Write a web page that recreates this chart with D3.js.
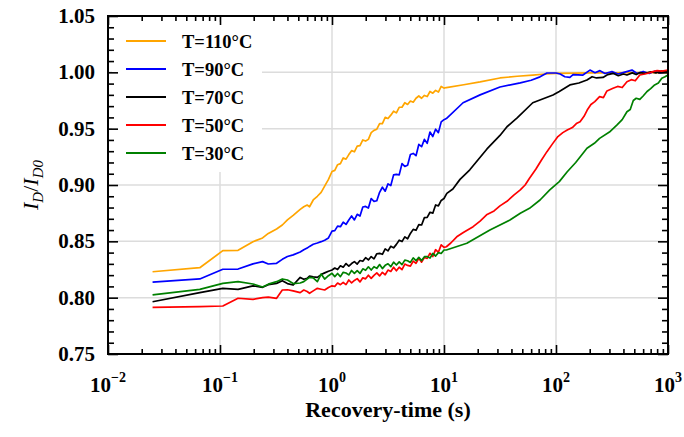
<!DOCTYPE html>
<html><head><meta charset="utf-8">
<script src="https://cdn.jsdelivr.net/npm/d3@7"></script>
<style>body{margin:0;background:#fff}svg{display:block}</style>
</head><body>
<script>
// ---------- DATA ----------
const seriesNames = ["T=110°C","T=90°C","T=70°C","T=50°C","T=30°C"];
const seriesColors = ["#FFA500","#0000FF","#000000","#FF0000","#008000"];
const xTickExps = [-2,-1,0,1,2,3];
const yTicks = [0.75,0.80,0.85,0.90,0.95,1.00,1.05];

// shared early sampling times (s)
const tEarly = [0.025,0.066,0.106,0.145,0.197,0.24,0.27,0.32,0.36,0.40,0.45,0.52,0.56,0.60,0.63,0.68,0.74,0.80,0.86,0.93];
// shared dense sampling times 1..10 s
const tMid = [1.000,1.059,1.122,1.189,1.259,1.334,1.413,1.496,1.585,1.679,1.778,1.884,1.995,2.113,2.239,2.371,2.512,2.661,2.818,2.985,3.162,3.350,3.548,3.758,3.981,4.217,4.467,4.732,5.012,5.309,5.623,5.957,6.310,6.683,7.079,7.499,7.943,8.414,8.913,9.441,10.0];

const v110Early = [.823,.8266,.8417,.842,.8497,.853,.857,.861,.8645,.869,.873,.8784,.8807,.8822,.8807,.8867,.890,.8935,.899,.905];
const v90Early  = [.8138,.8166,.8252,.8254,.830,.832,.8299,.8305,.834,.8365,.838,.8405,.8425,.844,.8455,.8474,.8485,.8497,.851,.853];
const v70Early  = [.7964,.8044,.8083,.8074,.8105,.8092,.8115,.8127,.815,.8125,.8112,.818,.8163,.8172,.8192,.8185,.818,.8205,.822,.8235];
const v50Early  = [.7914,.792,.7926,.7995,.7985,.800,.8005,.7994,.8068,.807,.806,.8045,.8068,.8055,.8039,.806,.8083,.8075,.8068,.809];
const v30Early  = [.8024,.8074,.8127,.8142,.8121,.8095,.812,.8142,.8166,.8157,.8125,.813,.8142,.8165,.818,.8175,.8142,.821,.8165,.8195];

const v110Mid = [.912,.913,.918,.919,.924,.923,.927,.9305,.9295,.9345,.935,.940,.939,.9405,.9465,.9485,.9495,.9545,.9545,.960,.959,.962,.9655,.964,.969,.969,.973,.9715,.9745,.9735,.977,.979,.977,.9795,.9785,.983,.9815,.984,.9825,.9875,.986];
const v90Mid  = [.859,.8595,.8635,.863,.867,.865,.869,.8725,.869,.874,.8725,.8805,.881,.8795,.888,.8855,.886,.8935,.898,.8945,.901,.8995,.909,.9095,.909,.919,.9165,.9175,.927,.928,.926,.936,.934,.9405,.937,.947,.943,.9495,.9465,.956,.958];
const v70Mid  = [.8246,.8263,.825,.8283,.827,.8303,.828,.8303,.832,.8298,.833,.8323,.8355,.8335,.8365,.8345,.839,.8393,.8385,.8433,.8415,.8456,.8442,.8473,.851,.8498,.854,.8523,.857,.8606,.8598,.8649,.8645,.871,.8713,.8758,.875,.8823,.8815,.8863,.888];
const v50Mid  = [.8105,.810,.813,.8115,.8135,.8116,.8157,.8132,.8153,.8169,.814,.8176,.8167,.8199,.8171,.8198,.822,.8193,.8225,.8203,.8245,.8233,.827,.8238,.827,.8249,.8298,.8286,.828,.8325,.8305,.835,.8315,.8356,.8348,.8394,.8365,.8426,.8403,.8469,.8447];
const v30Mid  = [.8216,.8187,.8215,.8187,.8225,.8219,.8202,.8241,.8215,.824,.8215,.8256,.8243,.8274,.8245,.8275,.826,.8294,.8258,.8287,.8301,.8275,.8315,.829,.8317,.8293,.8333,.8328,.8313,.8353,.8328,.8358,.8329,.8364,.8365,.8351,.8393,.8369,.840,.8392,.8423];

const late110 = [[10.5,.9865],[15,.989],[21,.9915],[31.6,.995],[45,.9965],[62,.9976],[80,.9985],[100,.999],[150,.9993],[200,.9995],[300,.9996],[500,.9997],[1000,.9998]];
const late90  = [[10.5,.959],[14.8,.973],[21,.980],[31.6,.987],[48,.9906],[60,.993],[72,.996],[83,.9994],[100,.9994],[109,.9985],[120,.9961],[133,.9955],[142,.998],[174,.9976],[201,1.002],[223,.9997],[247,1.0015],[274,.999],[316,1.0006],[358,.9985],[397,.9997],[477,1.002],[529,.999],[600,1.0008],[680,.999],[760,1.001],[850,.9995],[1000,1.0005]];
const late70  = [[10.6,.8926],[12,.8965],[13.9,.905],[17,.9135],[24.2,.932],[31.6,.944],[36.5,.9517],[45,.9595],[62,.973],[94,.9799],[107,.983],[133,.9888],[160,.9905],[189,.9932],[210,.9961],[230,.995],[263,.9955],[290,.998],[323,.9991],[360,.997],[400,.9985],[430,.9976],[480,.9995],[520,.998],[560,.9997],[620,.999],[700,1.0005],[780,.9995],[870,1.001],[1000,1.0006]];
const late50  = [[10.5,.8452],[11.5,.8485],[13,.854],[15,.858],[18.2,.863],[21,.868],[24,.8735],[28,.877],[31.6,.8815],[36.5,.8855],[42,.891],[48,.8956],[53,.900],[58,.906],[66,.914],[74,.922],[83,.9296],[93,.9365],[104,.943],[115,.9465],[126,.9488],[140,.951],[152,.9545],[164,.9562],[178,.961],[190,.9665],[205,.9715],[222,.974],[245,.9784],[265,.9775],[285,.9835],[323,.9858],[355,.9875],[390,.9865],[430,.9917],[470,.9935],[510,.9925],[560,.9976],[620,.9985],[680,.9995],[735,1.0006],[800,1.0015],[880,1.001],[1000,1.002]];
const late30  = [[10.5,.8423],[16,.8483],[25.7,.86],[38.8,.8689],[48,.8749],[58,.8793],[72,.8867],[88,.8956],[107,.903],[126,.9118],[150,.920],[189,.9326],[220,.937],[245,.9414],[300,.947],[351,.9533],[390,.958],[430,.965],[460,.967],[490,.975],[520,.977],[560,.976],[600,.979],[650,.983],[700,.9855],[760,.9888],[820,.9905],[880,.9947],[940,.996],[1000,.9976]];

const earlyVals = [v110Early,v90Early,v70Early,v50Early,v30Early];
const midVals = [v110Mid,v90Mid,v70Mid,v50Mid,v30Mid];
const lateVals = [late110,late90,late70,late50,late30];

// ---------- CHART ----------
const W = 684, H = 437;
const L = 108, R = 668, T = 16, B = 354;
const svg = d3.select("body").append("svg").attr("width", W).attr("height", H)
  .style("font-family", "'Liberation Serif','Times New Roman',serif");

const x = d3.scaleLog().domain([1e-2, 1e3]).range([L, R]);
const y = d3.scaleLinear().domain([0.75, 1.05]).range([B, T]);

// grid
const grid = svg.append("g").attr("stroke", "#dcdcdc").attr("stroke-width", 1.5);
xTickExps.slice(1, -1).forEach(e => {
  grid.append("line").attr("x1", x(Math.pow(10, e))).attr("x2", x(Math.pow(10, e))).attr("y1", T).attr("y2", B);
});
yTicks.slice(1, -1).forEach(v => {
  grid.append("line").attr("x1", L).attr("x2", R).attr("y1", y(v)).attr("y2", y(v));
});

// legend background (covers grid)
svg.append("rect").attr("x", 112).attr("y", 22).attr("width", 150).attr("height", 150).attr("fill", "#fff");

// series
const line = d3.line().x(d => x(d[0])).y(d => y(d[1]));
const plot = svg.append("g");
seriesNames.forEach((name, i) => {
  const pts = tEarly.map((t, j) => [t, earlyVals[i][j]])
    .concat(tMid.map((t, j) => [t, midVals[i][j]]))
    .concat(lateVals[i]);
  plot.append("path").datum(pts).attr("d", line)
    .attr("fill", "none").attr("stroke", seriesColors[i]).attr("stroke-width", 1.7)
    .attr("stroke-linejoin", "round");
});

// axes (inward ticks on all sides)
const minorX = [];
for (let e = -2; e < 3; e++) for (let k = 2; k <= 9; k++) minorX.push(k * Math.pow(10, e));
const majorX = xTickExps.map(e => Math.pow(10, e));
const minorY = d3.range(75, 106).map(v => v / 100).filter(v => Math.round(v * 100) % 5 !== 0);

function axisTicks(g, axis) { g.call(axis); g.select(".domain").remove(); g.selectAll("text").remove(); g.selectAll("line").attr("stroke", "#000").attr("stroke-width", 1.6); }
svg.append("g").attr("transform", `translate(0,${B})`).call(g => axisTicks(g, d3.axisTop(x).tickValues(majorX).tickSize(9)));
svg.append("g").attr("transform", `translate(0,${B})`).call(g => axisTicks(g, d3.axisTop(x).tickValues(minorX).tickSize(5)));
svg.append("g").attr("transform", `translate(0,${T})`).call(g => axisTicks(g, d3.axisBottom(x).tickValues(majorX).tickSize(9)));
svg.append("g").attr("transform", `translate(0,${T})`).call(g => axisTicks(g, d3.axisBottom(x).tickValues(minorX).tickSize(5)));
svg.append("g").attr("transform", `translate(${L},0)`).call(g => axisTicks(g, d3.axisRight(y).tickValues(yTicks).tickSize(10)));
svg.append("g").attr("transform", `translate(${L},0)`).call(g => axisTicks(g, d3.axisRight(y).tickValues(minorY).tickSize(6)));
svg.append("g").attr("transform", `translate(${R},0)`).call(g => axisTicks(g, d3.axisLeft(y).tickValues(yTicks).tickSize(10)));
svg.append("g").attr("transform", `translate(${R},0)`).call(g => axisTicks(g, d3.axisLeft(y).tickValues(minorY).tickSize(6)));

svg.append("rect").attr("x", L).attr("y", T).attr("width", R - L).attr("height", B - T)
  .attr("fill", "none").attr("stroke", "#000").attr("stroke-width", 2);

// tick labels
svg.append("g").selectAll("text").data(yTicks).join("text")
  .attr("x", L - 13).attr("y", d => y(d) + 7).attr("text-anchor", "end")
  .attr("font-size", 21).attr("font-weight", "bold").text(d => d.toFixed(2));

const xl = svg.append("g").selectAll("text").data(xTickExps).join("text")
  .attr("x", d => x(Math.pow(10, d))).attr("y", 392).attr("text-anchor", "middle")
  .attr("font-size", 21).attr("font-weight", "bold");
xl.append("tspan").text("10");
xl.append("tspan").attr("dy", -10).attr("font-size", 14).text(d => d < 0 ? "\u2212" + (-d) : String(d));

// axis titles
svg.append("text").attr("x", (L + R) / 2).attr("y", 417).attr("text-anchor", "middle")
  .attr("font-size", 22).attr("font-weight", "bold").text("Recovery-time (s)");

const yl = svg.append("text").attr("transform", `translate(38,${(T + B) / 2}) rotate(-90)`)
  .attr("text-anchor", "middle").attr("font-size", 22);
yl.append("tspan").attr("font-style", "italic").text("I");
yl.append("tspan").attr("font-style", "italic").attr("font-size", 15).attr("dy", 5).text("D");
yl.append("tspan").attr("dy", -5).text("/");
yl.append("tspan").attr("font-style", "italic").text("I");
yl.append("tspan").attr("font-style", "italic").attr("font-size", 15).attr("dy", 5).text("D0");

// legend
const lg = svg.append("g");
seriesNames.forEach((name, i) => {
  const yy = 41 + i * 28;
  lg.append("line").attr("x1", 126).attr("x2", 166).attr("y1", yy).attr("y2", yy)
    .attr("stroke", seriesColors[i]).attr("stroke-width", 1.8);
  lg.append("text").attr("x", 182).attr("y", yy + 6.5).attr("font-size", 18.5)
    .attr("font-weight", "bold").text(name);
});
</script>
</body></html>
